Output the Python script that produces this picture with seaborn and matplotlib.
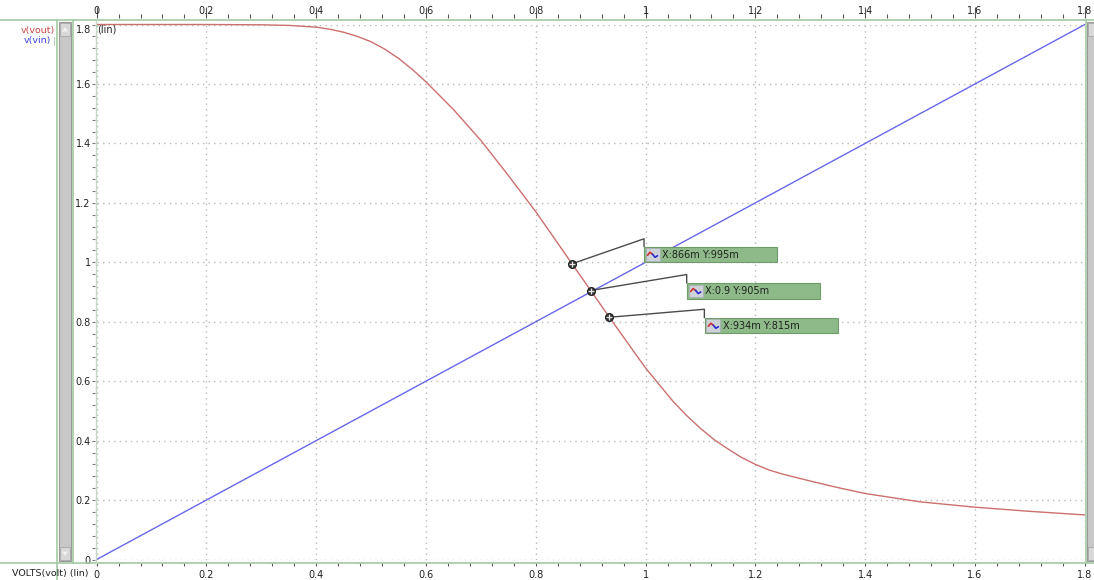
import matplotlib
matplotlib.use("Agg")
import matplotlib.pyplot as plt
import numpy as np
import pandas as pd
import seaborn as sns
from matplotlib.patches import Rectangle, Polygon
from matplotlib.lines import Line2D
from matplotlib.transforms import Affine2D
from matplotlib.ticker import MultipleLocator, FuncFormatter

# ---- DC sweep of the inverter: VOLTS is the swept source ----
volts = [0.0, 0.1, 0.2, 0.3, 0.35, 0.4, 0.425, 0.45, 0.475, 0.5, 0.525, 0.55,
         0.575, 0.6, 0.65, 0.7, 0.75, 0.8, 0.866, 0.9, 0.934, 1.0, 1.05, 1.075,
         1.1, 1.125, 1.15, 1.175, 1.2, 1.225, 1.25, 1.3, 1.35, 1.4, 1.5, 1.6,
         1.7, 1.8]
v_vout = [1.8, 1.8, 1.8, 1.799, 1.797, 1.791, 1.784, 1.774, 1.76, 1.742,
          1.717, 1.686, 1.649, 1.607, 1.514, 1.41, 1.292, 1.17, 0.995, 0.905,
          0.815, 0.644, 0.532, 0.484, 0.441, 0.403, 0.372, 0.343, 0.32, 0.301,
          0.287, 0.264, 0.242, 0.222, 0.194, 0.176, 0.162, 0.15]

# input node follows the sweep
volts_vin = [0.0, 1.8]
v_vin = [0.0, 1.8]

# cursor readouts
cursor_x = [0.866, 0.9, 0.934]
cursor_y = [0.995, 0.905, 0.815]

trace_names = ["v(vout)", "v(vin)"]
x_axis_label = "VOLTS(volt) (lin)"
scale_tag = "(lin)"

# ---- styling ----
RED = "#cc6f6f"
BLUE = "#6767ee"
GREEN = "#a3c9a3"
GRID = "#b9b9b9"
TXT = "#222222"
BOX_FC = "#8dba88"
BOX_EC = "#6f9c6b"
# callout geometry (pixel offsets from cursor): elbow x, elbow y, box left, box top
callout_offsets = [(72, 25, 72, 17), (96, 16, 96.5, 7.5), (95, 8, 95.5, -0.5)]
BOX_W, BOX_H = 133, 15.5

sns.set_theme(style="white")
plt.rcParams["font.family"] = ["DejaVu Sans"]

W, H = 1094, 580
fig = plt.figure(figsize=(W / 100, H / 100), dpi=100)
fig.patch.set_facecolor("white")


def fx(x):
    return x / W


def fy(y):
    return 1 - y / H


X0, X1, Y0, Y1 = 96.6, 1084.8, 559.5, 24.5
ax = fig.add_axes([fx(X0), fy(Y0), (X1 - X0) / W, (Y0 - Y1) / H])
ax.set_facecolor("white")

df_out = pd.DataFrame({"VOLTS": volts, "v": v_vout})
df_in = pd.DataFrame({"VOLTS": volts_vin, "v": v_vin})
sns.lineplot(data=df_out, x="VOLTS", y="v", ax=ax, color=RED, linewidth=1.0,
             estimator=None, sort=False)
sns.lineplot(data=df_in, x="VOLTS", y="v", ax=ax, color=BLUE, linewidth=1.0,
             estimator=None, sort=False)
for ln in ax.lines:
    ln.set_clip_on(False)
    ln.set_zorder(3)
    ln.set_solid_joinstyle("round")

ax.set_xlim(0, 1.8)
ax.set_ylim(0, 1.8)
ax.set_xlabel("")
ax.set_ylabel("")
for s in ax.spines.values():
    s.set_visible(False)
ax.spines["bottom"].set_position(("outward", 2.2))
ax.spines["left"].set_position(("outward", 0.8))

for axis in (ax.xaxis, ax.yaxis):
    axis.set_major_locator(MultipleLocator(0.2))
    axis.set_minor_locator(MultipleLocator(0.04))

ax.grid(True, which="major", linestyle=(0, (1, 3)), color=GRID, linewidth=1.0)
ax.set_axisbelow(True)


def fmt(v, _):
    s = f"{v:.1f}"
    return "0" if abs(v) < 1e-9 else ("1" if abs(v - 1) < 1e-9 else s)


ax.xaxis.set_major_formatter(FuncFormatter(fmt))
ax.yaxis.set_major_formatter(FuncFormatter(lambda v, p: "" if v > 1.79 else fmt(v, p)))

ax.tick_params(axis="x", which="both", bottom=True, top=False, direction="out",
               length=2.2, width=0.8, color="#555555", labelsize=7,
               labelcolor=TXT, pad=3.2)
ax.tick_params(axis="y", which="both", left=True, direction="out", length=2.2,
               width=0.8, color="#777777", labelsize=7, labelcolor=TXT, pad=1.2)

# top scale
top = ax.secondary_xaxis((Y0 - 18) / (Y0 - Y1))
for s in top.spines.values():
    s.set_visible(False)
top.xaxis.set_major_locator(MultipleLocator(0.2))
top.xaxis.set_minor_locator(MultipleLocator(0.04))
top.xaxis.set_major_formatter(FuncFormatter(fmt))
top.tick_params(axis="x", which="major", direction="out", length=7.9, width=0.8,
                color="#555555", labelsize=7, labelcolor=TXT, pad=-6.2)
top.tick_params(axis="x", which="minor", direction="out", length=2.9, width=0.8,
                color="#555555")

# ---- cursors and readout callouts ----


def eng(v):
    if round(v * 1000) % 100 == 0:
        return f"{v:g}"
    return f"{v * 1000:.0f}m"


for cx, cy, (ex, ey, bx, by) in zip(cursor_x, cursor_y, callout_offsets):
    px0, py0 = ax.transData.transform((cx, cy))
    t = Affine2D().translate(px0, py0)
    ax.add_line(Line2D([0, ex, ex], [0, ey, by], transform=t, color="#4c4c4c",
                       lw=1.0, clip_on=False, zorder=5))
    ax.add_patch(Rectangle((bx, by - BOX_H), BOX_W, BOX_H, transform=t,
                           fc=BOX_FC, ec=BOX_EC, lw=0.8, clip_on=False, zorder=6))
    ax.add_patch(Rectangle((bx + 1.5, by - BOX_H + 1.5), 14, BOX_H - 3, transform=t,
                           fc="#cdd2d8", ec="#a9b0b6", lw=0.6, clip_on=False, zorder=7))
    ax.add_line(Line2D([bx + 3.5, bx + 6, bx + 8.5], [by - 8.5, by - 5.5, by - 7.5],
                       transform=t, color="#d03030", lw=1.2, clip_on=False, zorder=8))
    ax.add_line(Line2D([bx + 8.5, bx + 11, bx + 13.5], [by - 7.5, by - 10.5, by - 9],
                       transform=t, color="#2a2ad0", lw=1.2, clip_on=False, zorder=8))
    ax.text(bx + 18, by - BOX_H / 2, f"X:{eng(cx)} Y:{eng(cy)}", transform=t,
            ha="left", va="center", fontsize=7, color=TXT, clip_on=False, zorder=8)
    ax.plot([cx], [cy], marker="o", ms=5.5, mfc="#3c3c3c", mec="#222222",
            ls="none", clip_on=False, zorder=9)
    ax.plot([cx], [cy], marker="+", ms=4.2, mew=0.9, color="#e6e6e6",
            ls="none", clip_on=False, zorder=10)

# ---- window frame: rules, scrollbars, trace names ----


def hline(y, x0, x1, **kw):
    fig.add_artist(Line2D([fx(x0), fx(x1)], [fy(y), fy(y)], transform=fig.transFigure, **kw))


def vline(x, y0, y1, **kw):
    fig.add_artist(Line2D([fx(x), fx(x)], [fy(y0), fy(y1)], transform=fig.transFigure, **kw))


hline(19.5, 0, W, color=GREEN, lw=1.2)
hline(562.5, 0, W, color=GREEN, lw=1.2)
vline(57, 19.5, 580, color=GREEN, lw=1.2)
vline(72.5, 19.5, 562.5, color=GREEN, lw=1.2)
vline(95.5, 19.5, 562.5, color="#c4d8c4", lw=1.0)
vline(1085.5, 19.5, 562.5, color=GREEN, lw=1.2)


def rect(x0, y0, x1, y1, **kw):
    fig.add_artist(Rectangle((fx(x0), fy(y1)), (x1 - x0) / W, (y1 - y0) / H,
                             transform=fig.transFigure, **kw))


rect(59, 22, 71, 561, fc="#c8c8c8", ec="#9a9a9a", lw=0.8)
rect(60, 23, 70, 36, fc="#d8d8d8", ec="#a8a8a8", lw=0.6)
rect(60, 547, 70, 560, fc="#d8d8d8", ec="#a8a8a8", lw=0.6)
fig.add_artist(Polygon([[fx(62), fy(31.5)], [fx(68), fy(31.5)], [fx(65), fy(27)]],
                       closed=True, transform=fig.transFigure, fc="#f2f2f2", ec="none"))
fig.add_artist(Polygon([[fx(62), fy(551.5)], [fx(68), fy(551.5)], [fx(65), fy(556)]],
                       closed=True, transform=fig.transFigure, fc="#f2f2f2", ec="none"))
rect(1087, 22, 1095, 561, fc="#c8c8c8", ec="#9a9a9a", lw=0.8)
rect(1088, 23, 1095, 36, fc="#d8d8d8", ec="#a8a8a8", lw=0.6)
rect(1088, 547, 1095, 560, fc="#d8d8d8", ec="#a8a8a8", lw=0.6)

fig.text(fx(55), fy(30), trace_names[0], ha="right", va="center", fontsize=6.8,
         color="#c84848")
fig.text(fx(51), fy(41), trace_names[1], ha="right", va="center", fontsize=6.8,
         color="#3f3fe0")
fig.text(fx(54), fy(41), "|", ha="center", va="center", fontsize=6, color=GREEN)

fig.text(fx(91.5), fy(30), f"{ax.get_ylim()[1]:.1f}", ha="right", va="center",
         fontsize=7, color=TXT)
fig.text(fx(97), fy(29.5), scale_tag, ha="left", va="center", fontsize=7, color=TXT)
fig.text(fx(89), fy(573.5), x_axis_label, ha="right", va="center", fontsize=6.8,
         color=TXT)

fig.savefig("out.png", dpi=100)
